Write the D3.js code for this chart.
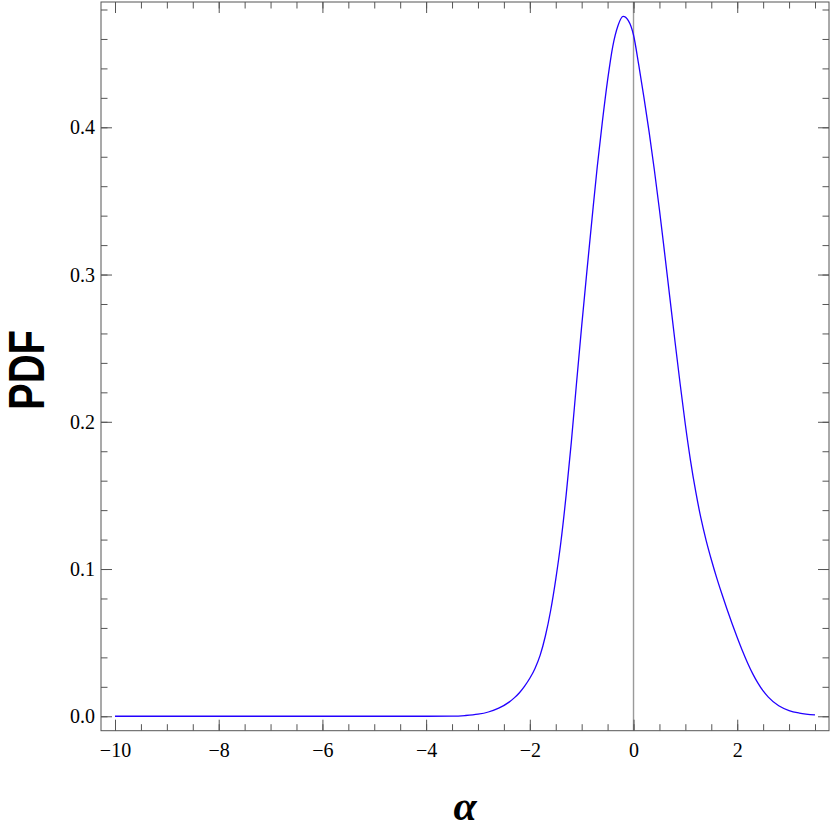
<!DOCTYPE html>
<html>
<head>
<meta charset="utf-8">
<script src="https://cdn.jsdelivr.net/npm/d3@7"></script>
<style>
  html, body { margin: 0; padding: 0; background: #fff; }
  svg { display: block; }
</style>
</head>
<body>
<svg id="chart" width="830" height="830"></svg>
<script>
// ---- data ----
const alphaValues = [-10, -9, -8, -7, -6, -5, -4, -3.5, -3.25, -3.0, -2.8, -2.6, -2.4, -2.3, -2.2, -2.1, -2.0, -1.9, -1.8, -1.7, -1.6, -1.5, -1.4, -1.3, -1.2, -1.1, -1.0, -0.9, -0.8, -0.7, -0.6, -0.5, -0.4, -0.3, -0.2, -0.1, 0.0, 0.1, 0.2, 0.3, 0.4, 0.5, 0.6, 0.7, 0.8, 0.9, 1.0, 1.1, 1.2, 1.3, 1.4, 1.5, 1.6, 1.7, 1.8, 1.9, 2.0, 2.1, 2.2, 2.3, 2.4, 2.5, 2.6, 2.8, 3.0, 3.2, 3.5];
const pdfValues   = [0, 0, 0, 0, 0, 0, 0, 0.0001, 0.0005, 0.0014, 0.0029, 0.0055, 0.0096, 0.0125, 0.0160, 0.0205, 0.0258, 0.0325, 0.0415, 0.0545, 0.0715, 0.0930, 0.1185, 0.1500, 0.1860, 0.2260, 0.2650, 0.3020, 0.3380, 0.3730, 0.4040, 0.4320, 0.4550, 0.4690, 0.4753, 0.4725, 0.4627, 0.4425, 0.4205, 0.3970, 0.3715, 0.3440, 0.3145, 0.2845, 0.2545, 0.2255, 0.1980, 0.1735, 0.1525, 0.1345, 0.1195, 0.1065, 0.0945, 0.0835, 0.0730, 0.0630, 0.0535, 0.0445, 0.0362, 0.0288, 0.0225, 0.0172, 0.0130, 0.0071, 0.0039, 0.0022, 0.0009];

const xMajorTicks = [-10, -8, -6, -4, -2, 0, 2];
const xMajorLabels = ["\u221210", "\u22128", "\u22126", "\u22124", "\u22122", "0", "2"];
const xMinorTicks = [-10, -9.5, -9, -8.5, -8, -7.5, -7, -6.5, -6, -5.5, -5, -4.5, -4, -3.5, -3, -2.5, -2, -1.5, -1, -0.5, 0, 0.5, 1, 1.5, 2, 2.5, 3, 3.5];
const yMajorTicks = [0, 0.1, 0.2, 0.3, 0.4];
const yMajorLabels = ["0.0", "0.1", "0.2", "0.3", "0.4"];
const yMinorTicks = [0, 0.02, 0.04, 0.06, 0.08, 0.1, 0.12, 0.14, 0.16, 0.18, 0.2, 0.22, 0.24, 0.26, 0.28, 0.3, 0.32, 0.34, 0.36, 0.38, 0.4, 0.42, 0.44, 0.46, 0.48];

const xTitle = "\u03b1";
const yTitle = "PDF";

const SERIF = '"Liberation Serif"';
const SANS = '"Liberation Sans"';

// ---- layout ----
const padL = 101, padT = 2, padR = 829, padB = 730.7;
const svg = d3.select("#chart");

const x = d3.scaleLinear().domain([-10.27, 3.77]).range([padL, padR]);
const y = d3.scaleLinear().domain([-0.0098, 0.4851]).range([padB, padT]);

const frameColor = "#555";
const majorLen = 11, minorLen = 6.5;

// vertical axis line at alpha = 0
svg.append("line")
  .attr("x1", x(0)).attr("x2", x(0))
  .attr("y1", padT).attr("y2", padB)
  .attr("stroke", "#9a9a9a").attr("stroke-width", 1.4);

function styleAxis(g) {
  g.select(".domain").remove();
  g.attr("font-family", null).attr("font-size", null);
  g.selectAll(".tick line").attr("stroke", frameColor).attr("stroke-width", 1);
}

// bottom minor
svg.append("g").attr("transform", `translate(0,${padB})`)
  .call(d3.axisBottom(x).tickValues(xMinorTicks).tickSize(-minorLen).tickFormat(""))
  .call(styleAxis);
// bottom major with labels
const gxB = svg.append("g").attr("transform", `translate(0,${padB})`)
  .call(d3.axisBottom(x).tickValues(xMajorTicks).tickSize(-majorLen)
        .tickFormat((d, i) => xMajorLabels[i]))
  .call(styleAxis);
gxB.selectAll(".tick text")
  .attr("y", 0).attr("dy", null)
  .attr("transform", "translate(0,26.5)")
  .style("font-family", SERIF)
  .style("font-size", "20px").attr("fill", "#000");

// top minor + major (no labels)
svg.append("g").attr("transform", `translate(0,${padT})`)
  .call(d3.axisTop(x).tickValues(xMinorTicks).tickSize(-minorLen).tickFormat(""))
  .call(styleAxis);
svg.append("g").attr("transform", `translate(0,${padT})`)
  .call(d3.axisTop(x).tickValues(xMajorTicks).tickSize(-majorLen).tickFormat(""))
  .call(styleAxis);

// left minor + major with labels
svg.append("g").attr("transform", `translate(${padL},0)`)
  .call(d3.axisLeft(y).tickValues(yMinorTicks).tickSize(-minorLen).tickFormat(""))
  .call(styleAxis);
const gyL = svg.append("g").attr("transform", `translate(${padL},0)`)
  .call(d3.axisLeft(y).tickValues(yMajorTicks).tickSize(-majorLen)
        .tickFormat((d, i) => yMajorLabels[i]))
  .call(styleAxis);
gyL.selectAll(".tick text")
  .attr("x", -6).attr("dy", "0.33em")
  .style("font-family", SERIF)
  .style("font-size", "20px").attr("fill", "#000");

// right minor + major
svg.append("g").attr("transform", `translate(${padR},0)`)
  .call(d3.axisRight(y).tickValues(yMinorTicks).tickSize(-minorLen).tickFormat(""))
  .call(styleAxis);
svg.append("g").attr("transform", `translate(${padR},0)`)
  .call(d3.axisRight(y).tickValues(yMajorTicks).tickSize(-majorLen).tickFormat(""))
  .call(styleAxis);

// frame
svg.append("rect")
  .attr("x", padL).attr("y", padT)
  .attr("width", padR - padL).attr("height", padB - padT)
  .attr("fill", "none").attr("stroke", frameColor).attr("stroke-width", 1);

// curve
const pts = alphaValues.map((a, i) => [a, pdfValues[i]]);
const line = d3.line().x(d => x(d[0])).y(d => y(d[1])).curve(d3.curveMonotoneX);
svg.append("path")
  .datum(pts)
  .attr("d", line)
  .attr("fill", "none")
  .attr("stroke", "#2200ff")
  .attr("stroke-width", 1.3)
  .attr("stroke-linejoin", "round");

// axis titles
svg.append("text")
  .attr("x", (padL + padR) / 2).attr("y", 820)
  .attr("text-anchor", "middle")
  .style("font-family", SERIF)
  .style("font-weight", "bold").style("font-style", "italic")
  .style("font-size", "42px")
  .text(xTitle);

svg.append("text")
  .attr("transform", `translate(44,370) rotate(-90)`)
  .attr("text-anchor", "middle")
  .style("font-family", SANS)
  .style("font-weight", "bold")
  .style("font-size", "50px")
  .attr("textLength", 80)
  .attr("lengthAdjust", "spacingAndGlyphs")
  .text(yTitle);
</script>
</body>
</html>
